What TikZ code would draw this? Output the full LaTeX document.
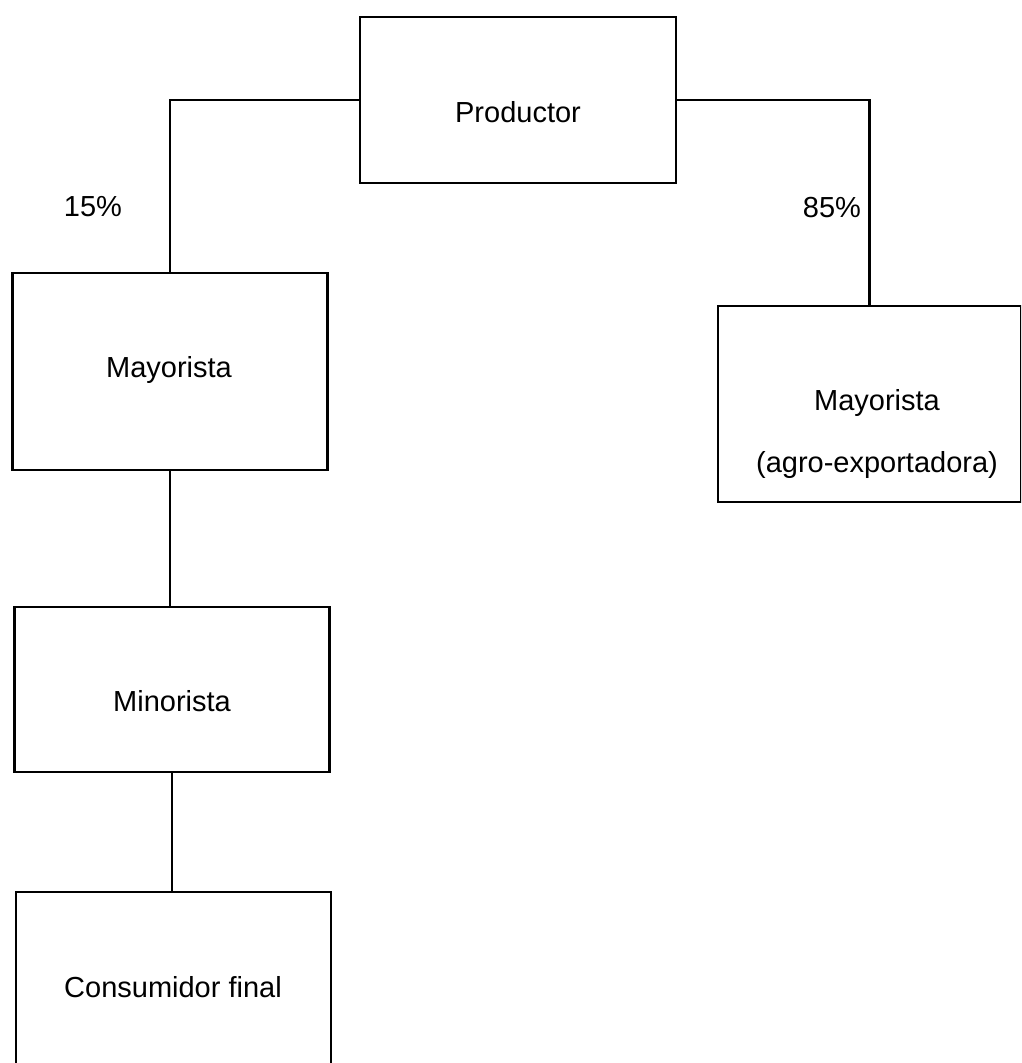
\documentclass[tikz,border=0pt]{standalone}
\usepackage{fontspec}
\setmainfont{Liberation Sans}
\usepackage{tikz}
\usetikzlibrary{positioning,calc}
\tikzset{%
	process/.style = {draw, rectangle, line width=2.2pt, inner sep=0pt},
	boxtext/.style = {inner sep=0pt, text height=21pt, text depth=6pt, font=\fontsize{29}{35}\selectfont},
	line/.style    = {line width=2.2pt},
}
\begin{document}
\begin{tikzpicture}[x=1pt,y=-1pt]
	\clip (0,0) rectangle (1021,1063);
	\node[process, minimum width=316pt, minimum height=166pt] (prod) at (518,100) {};
	\node[process, minimum width=315pt, minimum height=197pt] (may1) at (170,371.5) {};
	\node[process, minimum width=303pt, minimum height=196pt] (may2) at (869.5,404) {};
	\node[process, minimum width=315pt, minimum height=165pt] (mino) at (172,689.5) {};
	\node[process, minimum width=315pt, minimum height=197pt] (cons) at (173.5,990.5) {};
	% textos
	\node[boxtext] (prodtxt) at (518,115) {Productor};
	\node[boxtext] (may1txt) at (169,370) {Mayorista};
	\node[boxtext] (may2txt) at (877,403) {Mayorista};
	\node[boxtext] (agrotxt) at (877,465) {(agro-exportadora)};
	\node[boxtext] (minotxt) at (172,704) {Minorista};
	\node[boxtext] (constxt) at (173,990) {Consumidor final};
	\node[boxtext] (p15) at (93,209) {15\%};
	\node[boxtext] (p85) at (832,210) {85\%};
	% conectores
	\draw[line] (prod.west) -| (may1.north);
	\draw[line] (prod.east) -| (may2.north);
	\draw[line] (may1.south) -- (may1.south |- mino.north);
	\draw[line] (mino.south) -- (mino.south |- cons.north);
\end{tikzpicture}
\end{document}
